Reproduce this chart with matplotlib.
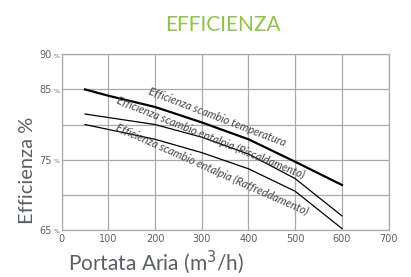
import matplotlib.pyplot as plt

# portata aria (m3/h)
portata = [50, 100, 200, 300, 400, 500, 600]
# efficienze (%)
eff_temperatura = [85.0, 84.1, 82.5, 80.3, 77.9, 74.7, 71.4]
eff_riscaldamento = [81.5, 81.0, 80.0, 78.2, 75.8, 72.3, 67.0]
eff_raffreddamento = [80.0, 79.3, 77.9, 76.0, 73.7, 70.5, 65.2]

xticks = [0, 100, 200, 300, 400, 500, 600, 700]
yticks = [65, 70, 75, 80, 85, 90]
ylabels = ['65', '', '75', '', '85', '90']

grey = '#aaaaaa'
text_grey = '#5a5f63'

fig = plt.figure(figsize=(4.11, 2.77), dpi=100)
ax = fig.add_axes([0.150, 0.170, 0.7955, 0.634])

ax.plot(portata, eff_temperatura, color='black', lw=1.6)
ax.plot(portata, eff_riscaldamento, color='black', lw=0.9)
ax.plot(portata, eff_raffreddamento, color='black', lw=0.9)

ax.set_xlim(0, 700)
ax.set_ylim(65, 90)
ax.set_xticks(xticks)
ax.set_yticks(yticks)
ax.set_yticklabels(ylabels)
ax.tick_params(length=0, labelsize=7, colors=text_grey)
ax.tick_params(axis='y', pad=7)
ax.tick_params(axis='x', pad=3)
ax.grid(True, color=grey, lw=0.9)
for s in ax.spines.values():
    s.set_color(grey)
    s.set_linewidth(0.9)

# small "%" after each y label
for y, lab in zip(yticks, ylabels):
    if lab:
        ax.annotate('%', xy=(0, y), xycoords=('axes fraction', 'data'),
                    xytext=(-1.5, -2.5), textcoords='offset points',
                    ha='right', va='baseline', fontsize=4.5, color=text_grey)

lab_style = dict(fontsize=8, family='Lato', style='italic', color='#444444',
                 rotation_mode='anchor', ha='center', va='center')
ax.text(332, 81.0, 'Efficienza scambio temperatura', rotation=-21, **lab_style)
ax.text(318, 78.1, 'Efficienza scambio entalpia (Riscaldamento)', rotation=-22, **lab_style)
ax.text(322, 73.6, 'Efficienza scambio entalpia (Raffreddamento)', rotation=-24, **lab_style)

fig.text(0.543, 0.91, 'EFFICIENZA', color='#8cc63f', fontsize=15,
         family='Lato', ha='center', va='center')
fig.text(0.068, 0.386, 'Efficienza %', color=text_grey, fontsize=14.5,
         family='Lato', rotation=90, ha='center', va='center')
fig.text(0.165, 0.055, 'Portata Aria (m$^3$/h)', color=text_grey, fontsize=15,
         family='Lato', ha='left', va='center')

fig.savefig('out.png', dpi=100)
